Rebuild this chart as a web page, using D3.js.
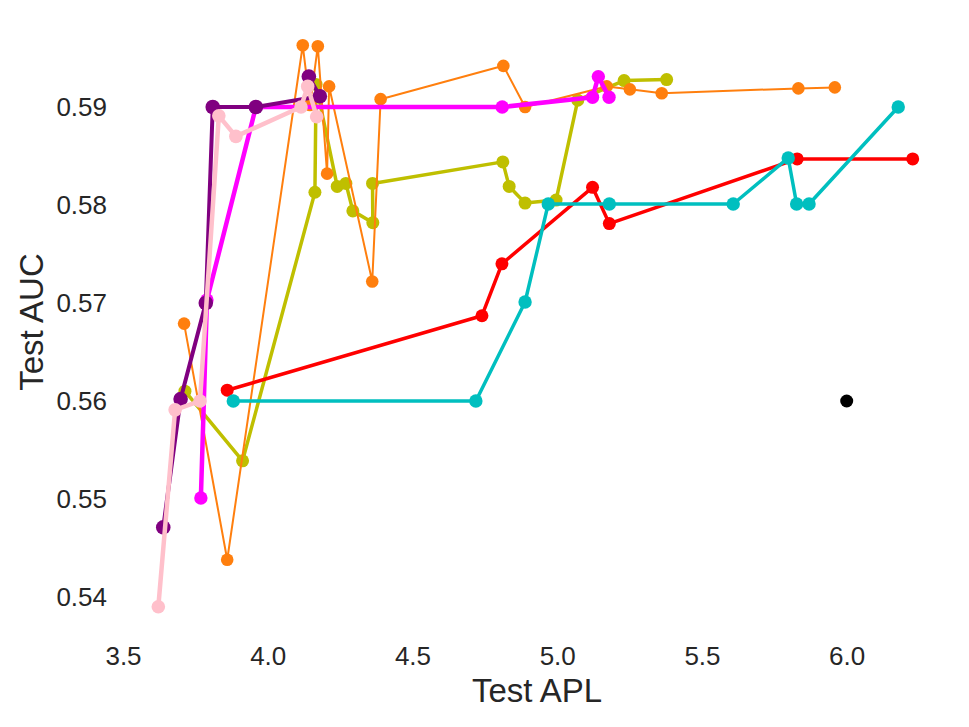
<!DOCTYPE html>
<html>
<head>
<meta charset="utf-8">
<script src="https://cdn.jsdelivr.net/npm/d3@7"></script>
<style>
  body { margin: 0; background: #ffffff; }
  svg text { font-family: "Liberation Sans", Arial, sans-serif; fill: #262626; }
</style>
</head>
<body>
<div class="chart"></div>
<script>
// values
const xTicks = [3.5, 4.0, 4.5, 5.0, 5.5, 6.0];
const yTicks = [0.54, 0.55, 0.56, 0.57, 0.58, 0.59];

const oliveX = [3.714, 3.913, 4.163, 4.167, 4.240, 4.270, 4.294, 4.363, 4.362, 4.812, 4.834, 4.889, 4.996, 5.071, 5.231, 5.378];
const oliveY = [0.5610, 0.5539, 0.5813, 0.5923, 0.5819, 0.5822, 0.5794, 0.5782, 0.5822, 0.5844, 0.5819, 0.5802, 0.5805, 0.5907, 0.5927, 0.5928];

const orangeX = [3.711, 3.860, 4.121, 4.146, 4.173, 4.205, 4.212, 4.361, 4.390, 4.814, 4.889, 5.171, 5.251, 5.361, 5.833, 5.959];
const orangeY = [0.5679, 0.5438, 0.5963, 0.5902, 0.5962, 0.5832, 0.5921, 0.5722, 0.5908, 0.5942, 0.5900, 0.5921, 0.5918, 0.5914, 0.5919, 0.5920];

const redX = [3.860, 4.740, 4.809, 5.122, 5.180, 5.829, 6.228];
const redY = [0.5611, 0.5687, 0.5740, 0.5818, 0.5781, 0.5847, 0.5847];

const cyanX = [3.881, 4.719, 4.889, 4.969, 5.180, 5.608, 5.798, 5.827, 5.870, 6.178];
const cyanY = [0.5600, 0.5600, 0.5701, 0.5801, 0.5801, 0.5801, 0.5848, 0.5801, 0.5801, 0.5900];

const magentaX = [3.769, 3.790, 3.959, 4.810, 5.122, 5.142, 5.179];
const magentaY = [0.5501, 0.5703, 0.5900, 0.5900, 0.5910, 0.5931, 0.5910];

const purpleX = [3.639, 3.699, 3.786, 3.810, 3.959, 4.180, 4.142];
const purpleY = [0.5471, 0.5602, 0.5700, 0.5900, 0.5900, 0.5911, 0.5931];

const pinkX = [3.622, 3.680, 3.766, 3.831, 3.890, 4.115, 4.138, 4.169];
const pinkY = [0.5390, 0.5591, 0.5600, 0.5891, 0.5870, 0.5900, 0.5921, 0.5890];

const blackX = [6.0];
const blackY = [0.56];

const series = [
	{ xs: oliveX, ys: oliveY, color: "#bfbf00", lw: 3.5, r: 6.5 },
	{ xs: orangeX, ys: orangeY, color: "#ff7f0e", lw: 2, r: 6.3 },
	{ xs: redX, ys: redY, color: "#ff0000", lw: 3.5, r: 6.5 },
	{ xs: cyanX, ys: cyanY, color: "#00bfbf", lw: 3.5, r: 6.7 },
	{ xs: magentaX, ys: magentaY, color: "#ff00ff", lw: 4.5, r: 6.7 },
	{ xs: purpleX, ys: purpleY, color: "#800080", lw: 4, r: 7.3 },
	{ xs: pinkX, ys: pinkY, color: "#ffc0cb", lw: 4.5, r: 6.8 },
	{ xs: blackX, ys: blackY, color: "#000000", lw: 0, r: 6.5 }
];

const width = 969, height = 727;

const x = d3.scaleLinear().domain([3.5, 6.0]).range([123, 846.7]);
const y = d3.scaleLinear().domain([0.54, 0.59]).range([597, 107]);

const svg = d3.select("div.chart")
	.append("svg")
	.attr("width", width)
	.attr("height", height);

// x tick labels (no axis line, no tick marks)
const xAxis = svg.append("g")
	.attr("transform", "translate(0,638)")
	.call(d3.axisBottom(x).tickValues(xTicks).tickFormat(d3.format(".1f")).tickSize(0).tickPadding(0));
xAxis.select(".domain").remove();
xAxis.selectAll("text")
	.attr("dy", "0.71em")
	.attr("y", 9)
	.style("font-size", "26px");

const yAxis = svg.append("g")
	.attr("transform", "translate(107,0)")
	.call(d3.axisLeft(y).tickValues(yTicks).tickFormat(d3.format(".2f")).tickSize(0).tickPadding(0));
yAxis.select(".domain").remove();
yAxis.selectAll("text")
	.attr("x", 0)
	.style("font-size", "26px");

svg.append("text")
	.attr("x", 537)
	.attr("y", 702)
	.attr("text-anchor", "middle")
	.style("font-size", "33px")
	.text("Test APL");

svg.append("text")
	.attr("transform", "translate(43,322) rotate(-90)")
	.attr("text-anchor", "middle")
	.style("font-size", "33px")
	.text("Test AUC");

const line = d3.line()
	.x(d => x(d[0]))
	.y(d => y(d[1]));

series.forEach(s => {
	const pts = s.xs.map((v, i) => [v, s.ys[i]]);
	const g = svg.append("g");
	if (s.lw > 0) {
		g.append("path")
			.datum(pts)
			.attr("d", line)
			.attr("fill", "none")
			.attr("stroke", s.color)
			.attr("stroke-width", s.lw)
			.attr("stroke-linejoin", "round");
	}
	g.selectAll("circle")
		.data(pts)
		.enter()
		.append("circle")
		.attr("cx", d => x(d[0]))
		.attr("cy", d => y(d[1]))
		.attr("r", s.r)
		.attr("fill", s.color);
});
</script>
</body>
</html>
